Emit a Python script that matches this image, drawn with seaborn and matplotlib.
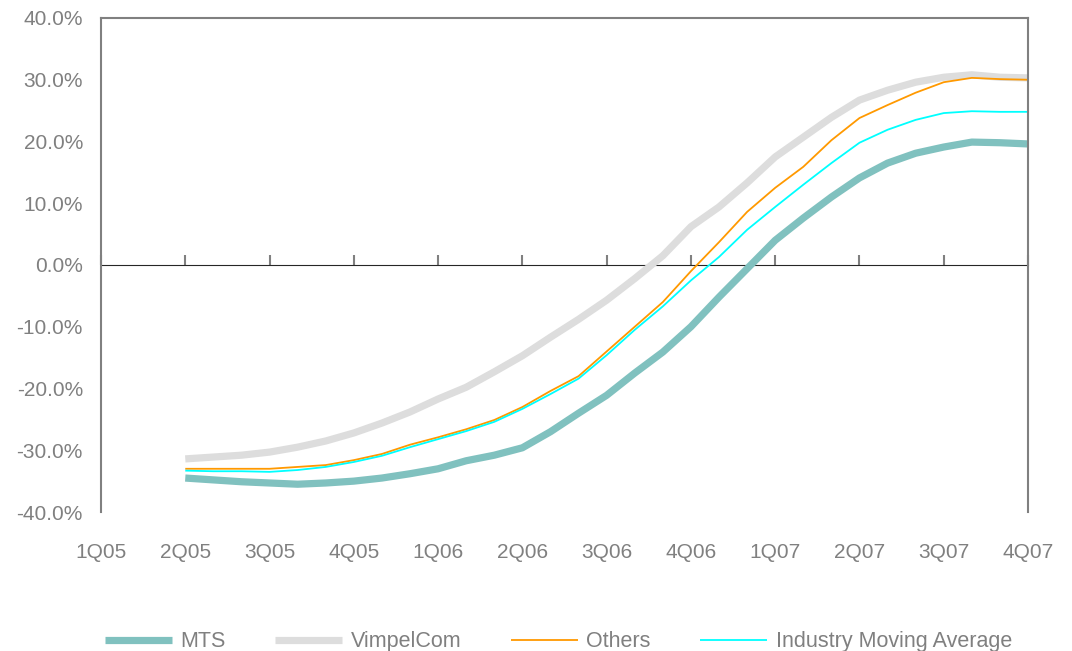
import pandas as pd
import numpy as np
import matplotlib.pyplot as plt
import seaborn as sns

# ------ DATA (monthly, Apr 2005 .. Oct 2007, % change) ------
months = pd.period_range("2005-04", "2007-10", freq="M")

mts = [-34.5, -34.8, -35.1, -35.3, -35.5, -35.3, -35.0, -34.5, -33.8, -33.0,
       -31.7, -30.8, -29.6, -27.0, -24.0, -21.1, -17.5, -14.1, -10.0, -5.2,
       -0.6, 4.0, 7.6, 11.0, 14.1, 16.5, 18.1, 19.1, 19.9, 19.8, 19.6]

vimpelcom = [-31.4, -31.1, -30.8, -30.3, -29.5, -28.5, -27.2, -25.6, -23.8, -21.7,
             -19.8, -17.3, -14.7, -11.7, -8.8, -5.7, -2.2, 1.5, 6.2, 9.4,
             13.3, 17.5, 20.7, 23.9, 26.7, 28.3, 29.6, 30.4, 30.8, 30.4, 30.3]

others = [-33.0, -33.0, -33.0, -33.0, -32.7, -32.4, -31.6, -30.6, -29.1, -27.9,
          -26.6, -25.1, -23.0, -20.4, -18.0, -14.0, -10.0, -6.0, -1.0, 3.7,
          8.6, 12.5, 15.9, 20.2, 23.8, 25.9, 27.9, 29.6, 30.3, 30.1, 30.0]

industry_ma = [-33.3, -33.4, -33.4, -33.5, -33.2, -32.7, -31.9, -30.9, -29.5, -28.2,
               -26.9, -25.4, -23.3, -20.9, -18.4, -14.6, -10.5, -6.7, -2.5, 1.3,
               5.7, 9.4, 13.0, 16.5, 19.8, 21.9, 23.5, 24.6, 24.9, 24.8, 24.8]

quarters = ["1Q05", "2Q05", "3Q05", "4Q05", "1Q06", "2Q06",
            "3Q06", "4Q06", "1Q07", "2Q07", "3Q07", "4Q07"]

# quarter axis position: 1Q05 = 0
xpos = (months.year - 2005) * 4 + (months.month - 1) / 3

df = pd.DataFrame({"x": xpos, "MTS": mts, "VimpelCom": vimpelcom,
                   "Others": others, "Industry Moving Average": industry_ma})

# ------ STYLE ------
sns.set_style("white")
plt.rcParams['font.family'] = ['Liberation Sans', 'DejaVu Sans']
grey = "#808080"

fig = plt.figure(figsize=(10.72, 6.51), dpi=100)
ax = fig.add_axes([0.0942, 0.2135, 0.8648, 0.7589])

series = [("MTS", "#80C1BF", 5.2),
          ("VimpelCom", "#DDDDDD", 5.2),
          ("Others", "#FF9900", 1.3),
          ("Industry Moving Average", "#00FFFF", 1.3)]

for name, col, lw in series:
    sns.lineplot(data=df, x="x", y=name, color=col, linewidth=lw, label=name,
                 solid_capstyle="butt", ax=ax)

ax.set_xlim(0, 11)
ax.set_ylim(-40, 40)
ax.set_yticks(np.arange(-40, 41, 10))
ax.set_yticklabels([f"{v:.1f}%" for v in np.arange(-40, 41, 10)])
ax.set_xticks(range(len(quarters)))
ax.set_xticklabels(quarters)
ax.set_xlabel("")
ax.set_ylabel("")

for side in ["top", "left", "right"]:
    ax.spines[side].set_color(grey)
    ax.spines[side].set_linewidth(1.5)
ax.spines["bottom"].set_visible(False)

ax.tick_params(axis="y", direction="inout", length=12, width=1.5, color=grey,
               labelcolor=grey, labelsize=15, pad=7)
ax.tick_params(axis="x", length=0, labelcolor=grey, labelsize=15, pad=22)

# zero line with quarter ticks
zero = ax.secondary_xaxis(0.5)
zero.set_xticks(range(len(quarters)))
zero.set_xticklabels([])
zero.spines["bottom"].set_color(grey)
zero.spines["bottom"].set_linewidth(1.5)
zero.tick_params(direction="out", length=7, width=1.5, color=grey)

# ------ LEGEND ------
handles, labels = ax.get_legend_handles_labels()
ax.get_legend().remove()
leg = fig.legend(handles, labels, loc="center", bbox_to_anchor=(0.521, 0.014),
                 ncol=4, frameon=False, fontsize=15.5, handlelength=3.1,
                 handletextpad=0.4, columnspacing=2.3)
for t in leg.get_texts():
    t.set_color(grey)

fig.savefig("out.png", dpi=100)
